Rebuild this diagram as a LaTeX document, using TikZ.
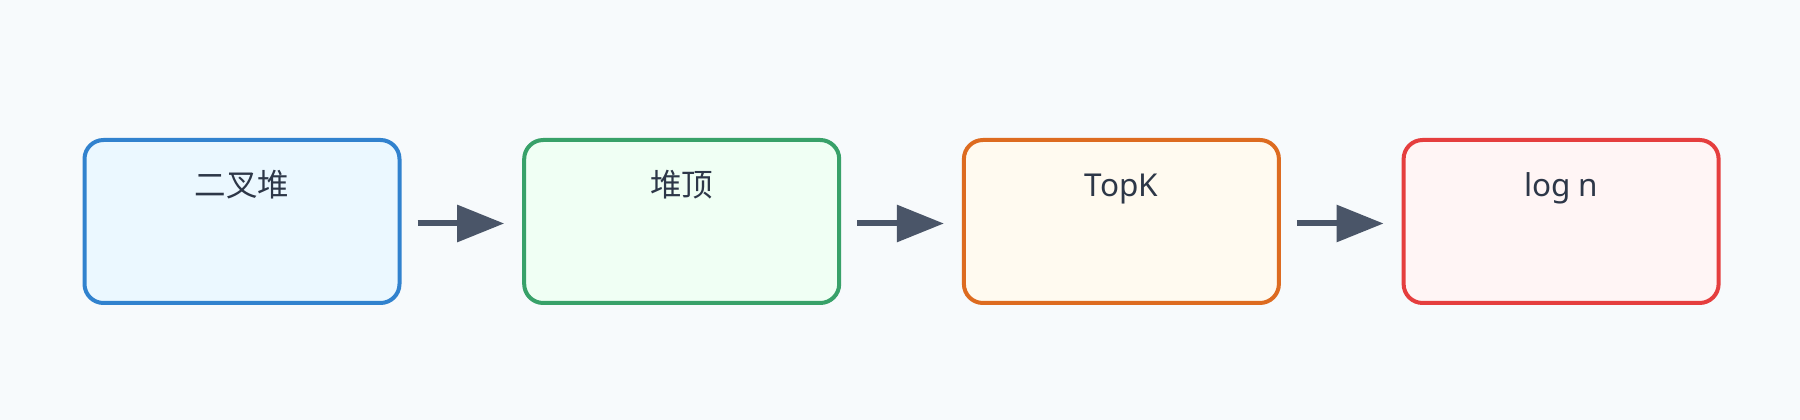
\documentclass[tikz,border=0pt]{standalone}
\usepackage{fontspec}
\setmainfont{Noto Sans}
\newfontfamily\cjk{Noto Sans CJK SC}
\usetikzlibrary{arrows.meta}
\definecolor{bgcol}{HTML}{F7FAFC}
\definecolor{txtcol}{HTML}{2D3748}
\definecolor{arrcol}{HTML}{4A5568}
\definecolor{bluel}{HTML}{3182CE}\definecolor{bluef}{HTML}{EBF8FF}
\definecolor{greenl}{HTML}{38A169}\definecolor{greenf}{HTML}{F0FFF4}
\definecolor{orangel}{HTML}{DD6B20}\definecolor{orangef}{HTML}{FFFAF0}
\definecolor{redl}{HTML}{E53E3E}\definecolor{redf}{HTML}{FFF5F5}
\tikzset{
	box/.style={draw, line width=4pt, rounded corners=19pt, minimum width=315pt, minimum height=163pt, inner sep=0pt},
	lbl/.style={anchor=base, text=txtcol, font=\fontsize{31.5pt}{38pt}\selectfont, inner sep=0pt},
	flow/.style={draw=arrcol, line width=6pt, -{Triangle[length=47pt,width=36pt]}}
}
\begin{document}
\begin{tikzpicture}[x=1pt,y=1pt]
	\fill[bgcol] (0,0) rectangle (1800,420);
	
	\node[box, draw=bluel, fill=bluef] (heap) at (242,198.5) {};
	\node[box, draw=greenl, fill=greenf] (top) at (681.7,198.5) {};
	\node[box, draw=orangel, fill=orangef] (topk) at (1121.4,198.5) {};
	\node[box, draw=redl, fill=redf] (logn) at (1561.1,198.5) {};
	
	\node[lbl] (heapt) at ([yshift=-59pt]heap.north) {\cjk 二叉堆};
	\node[lbl] (topt) at ([yshift=-59pt]top.north) {\cjk 堆顶};
	\node[lbl] (topkt) at ([yshift=-59pt]topk.north) {TopK};
	\node[lbl] (lognt) at ([yshift=-59pt]logn.north) {log n};
	
	\path[flow] ([shift={(16pt,-2pt)}]heap.east) -- ([shift={(-18pt,-2pt)}]top.west);
	\path[flow] ([shift={(16pt,-2pt)}]top.east) -- ([shift={(-18pt,-2pt)}]topk.west);
	\path[flow] ([shift={(16pt,-2pt)}]topk.east) -- ([shift={(-18pt,-2pt)}]logn.west);
\end{tikzpicture}
\end{document}
